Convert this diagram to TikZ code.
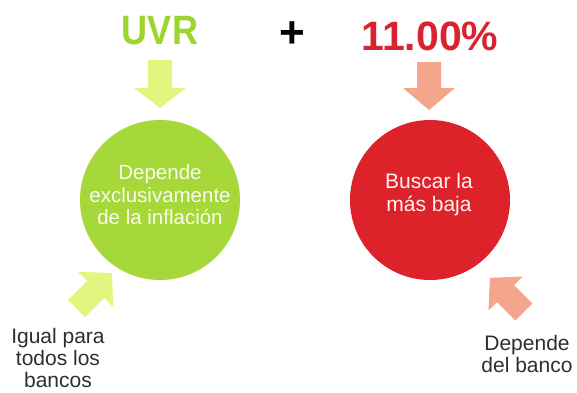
\documentclass[tikz,border=0pt]{standalone}
\usepackage{fontspec}
\setmainfont{Liberation Sans}
\definecolor{uvrgreen}{HTML}{9BD52E}
\definecolor{circgreen}{HTML}{A6D839}
\definecolor{arrgreen}{HTML}{E3F57E}
\definecolor{tasared}{HTML}{D9232E}
\definecolor{circred}{HTML}{DD2229}
\definecolor{arrred}{HTML}{F3A68B}
\definecolor{labgray}{HTML}{2E2E2E}
\begin{document}
\begin{tikzpicture}[x=1pt,y=-1pt,
  bigtitle/.style={inner sep=0pt,anchor=base,font=\fontsize{41}{41}\selectfont\bfseries},
  circtext/.style={inner sep=0pt,align=center,font=\fontsize{20.5}{22.5}\selectfont},
  labtext/.style={inner sep=0pt,align=center,text=labgray,font=\fontsize{21}{22}\selectfont},
  disc/.style={circle,inner sep=0pt,minimum size=160pt},
  arrgreenfill/.style={fill=arrgreen},
  arrredfill/.style={fill=arrred}]
\useasboundingbox (0,0) rectangle (577,392);
% titles
\node[bigtitle,text=uvrgreen] (uvr) at (160,44) {\scalebox{0.88}[1]{UVR}};
\node[inner sep=0pt,font=\fontsize{44}{44}\selectfont\bfseries] (plus) at (292,35) {+};
\node[bigtitle,text=tasared] (tasa) at (430,50) {11.00\%};
% big down arrows
\fill[arrgreenfill] (148,60) -- (172,60) -- (172,88) -- (186,88) -- (160,108) -- (134,88) -- (148,88) -- cycle;
\fill[arrredfill] (417,62) -- (441,62) -- (441,88) -- (455,88) -- (429,110) -- (403,88) -- (417,88) -- cycle;
% circles
\node[disc,fill=circgreen] (gc) at (160,200) {};
\node[disc,fill=circred] (rc) at (430,200) {};
\node[circtext,text=white!92!circgreen] (gt) at (160,195) {Depende\\exclusivamente\\de la inflación};
\node[circtext,text=white!94!circred,font=\fontsize{21}{23}\selectfont] (rt) at (429,195) {Buscar la\\más baja};
% small arrows
\fill[arrgreenfill] (68,300) -- (87.1,280.9) -- (77.9,271.7) -- (111.9,273.1) -- (113.3,307.1) -- (104.1,297.9) -- (85,317) -- cycle;
\fill[arrredfill] (532.4,303.4) -- (514,285) -- (522.5,276.5) -- (489.9,277.9) -- (488.5,310.5) -- (497,302) -- (515.4,320.4) -- cycle;
% labels
\node[labtext] (gl) at (58,358) {Igual para\\todos los\\bancos};
\node[labtext] (rl) at (527,353.5) {Depende\\del banco};
\end{tikzpicture}
\end{document}
